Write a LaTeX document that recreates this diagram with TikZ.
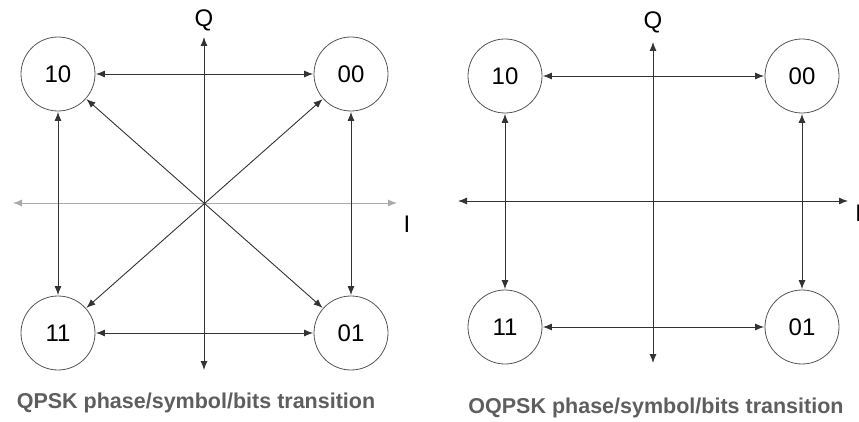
\documentclass[tikz,border=0pt]{standalone}
\usepackage{fontspec}
\setmainfont{Liberation Sans}
\usetikzlibrary{arrows.meta}
\definecolor{circ}{HTML}{555555}
\definecolor{arr}{HTML}{333333}
\definecolor{cap}{HTML}{5E5E5E}
\definecolor{lightax}{HTML}{AAAAAA}
\begin{document}
\begin{tikzpicture}[x=1pt,y=-1pt,
  state/.style={circle,draw=circ,line width=0.8pt,minimum size=74pt,inner sep=0pt,font=\fontsize{24}{26}\selectfont,text=black},
  conn/.style={draw=arr,line width=0.9pt,{Latex[length=9pt,width=7pt]}-{Latex[length=9pt,width=7pt]},shorten <=0.5pt,shorten >=0.5pt},
  axis/.style={draw=arr,line width=0.9pt,{Latex[length=9pt,width=7pt]}-{Latex[length=9pt,width=7pt]}},
  lbl/.style={font=\fontsize{24}{26}\selectfont,text=black,inner sep=0pt},
  caption/.style={font=\bfseries\fontsize{21.5}{24}\selectfont,text=cap,inner sep=0pt}]
\useasboundingbox (0,0) rectangle (859,422);
\clip (0,0) rectangle (859,422);
% ---------- left: QPSK ----------
\coordinate (lqt) at (204,37);
\coordinate (lqb) at (204,370);
\coordinate (lil) at (13,203);
\coordinate (lir) at (397,203);
\draw[axis,draw=lightax] (lil) -- (lir);
\draw[axis] (lqb) -- (lqt);
\node[lbl] (lQ) at (204,20) {Q};
\node[lbl] (lI) at (407,224) {I};
\node[state] (a10) at (58,74) {10};
\node[state] (a00) at (351,74) {00};
\node[state] (a11) at (58,333) {11};
\node[state] (a01) at (351,333) {01};
\draw[conn] (a10) -- (a00);
\draw[conn] (a11) -- (a01);
\draw[conn] (a10) -- (a11);
\draw[conn] (a00) -- (a01);
\draw[conn] (a10) -- (a01);
\draw[conn] (a00) -- (a11);
\node[caption] (capL) at (196,403) {QPSK phase/symbol/bits transition};
% ---------- right: OQPSK ----------
\coordinate (rqt) at (653,42);
\coordinate (rqb) at (653,363);
\coordinate (ril) at (458,201);
\coordinate (rir) at (848,201);
\draw[axis] (ril) -- (rir);
\draw[axis] (rqb) -- (rqt);
\node[lbl] (rQ) at (653,22) {Q};
\node[lbl,anchor=west] (rI) at (855,213) {I};
\node[state] (b10) at (505,76) {10};
\node[state] (b00) at (802,76) {00};
\node[state] (b11) at (505,327) {11};
\node[state] (b01) at (802,327) {01};
\draw[conn] (b10) -- (b00);
\draw[conn] (b11) -- (b01);
\draw[conn] (b10) -- (b11);
\draw[conn] (b00) -- (b01);
\node[caption] (capR) at (656,408) {OQPSK phase/symbol/bits transition};
\end{tikzpicture}
\end{document}
